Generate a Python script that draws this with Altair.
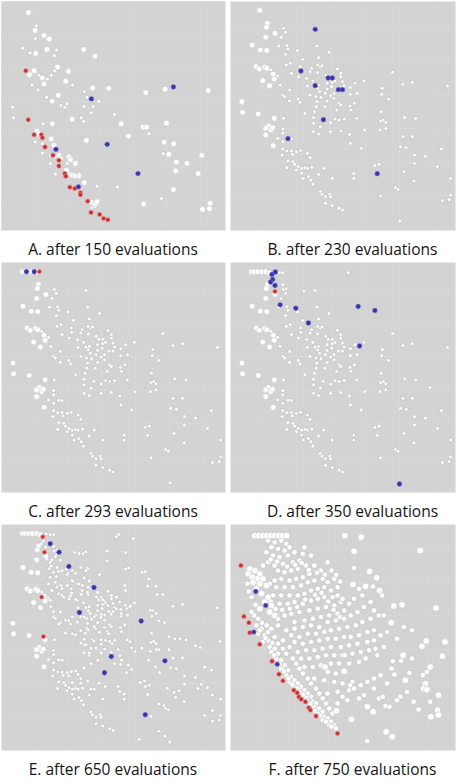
import altair as alt
import pandas as pd

# ---------------------------------------------------------------------------
# Objective-space snapshots of the optimiser (f1 to the right, f2 downwards).
# ---------------------------------------------------------------------------

# Panel A - population after 150 evaluations
A_WHITE_BIG = [
    (83, 35), (103, 88), (130, 104), (146, 115), (105, 158), (139, 146), (250, 146),
    (284, 166), (100, 210), (86, 222), (125, 232), (130, 250), (171, 199), (204, 212),
    (196, 242), (155, 302), (173, 284), (277, 262), (325, 263), (438, 276), (496, 266),
    (626, 270), (215, 356), (155, 370), (363, 370), (430, 380), (440, 380), (500, 368),
    (385, 407), (258, 420), (109, 392), (113, 400), (152, 415), (160, 435), (175, 465),
    (180, 475), (205, 470), (210, 478), (225, 490), (198, 510), (205, 523), (215, 525),
    (225, 527), (235, 527), (252, 547), (493, 425), (522, 430), (507, 462), (530, 485),
    (562, 489), (528, 512), (607, 465), (596, 520), (521, 568), (431, 612), (275, 607),
    (285, 612), (290, 605), (632, 610), (609, 628), (630, 626),
]
A_WHITE = [
    (107, 75), (104, 113), (65, 142), (88, 157), (168, 148), (161, 165), (107, 214),
    (115, 224), (140, 235), (152, 224), (162, 210), (216, 253), (112, 268), (94, 253),
    (138, 290), (181, 315), (193, 320), (200, 310), (252, 273), (260, 290), (271, 300),
    (278, 318), (296, 302), (250, 318), (272, 337), (35, 320), (38, 352), (242, 352),
    (250, 363), (127, 370), (343, 342), (447, 400), (103, 425), (125, 430), (125, 458),
    (150, 465), (165, 470), (228, 485), (200, 490), (150, 490), (165, 522), (237, 520),
    (290, 558), (352, 560), (490, 460), (485, 595), (283, 620), (275, 623),
]
A_RED = [
    (75, 210), (82, 358), (100, 403), (122, 403), (125, 412), (133, 440), (157, 465),
    (175, 480), (175, 497), (193, 520), (196, 528), (208, 561), (223, 565), (240, 578),
    (240, 584), (262, 603), (272, 637), (298, 643), (310, 655), (323, 659),
]
A_BLUE = [(273, 295), (521, 259), (321, 432), (414, 520), (166, 447), (234, 560)]

# Panels B-E - one growing population; each list holds the points of one batch
BIG_B = [
    (92, 46), (40, 320), (42, 352), (88, 357), (115, 85), (112, 97), (137, 115),
    (110, 127), (70, 150), (94, 165), (113, 166), (82, 215), (91, 222), (107, 216),
    (113, 220), (132, 237), (101, 257), (135, 252), (121, 272), (135, 370), (118, 393),
    (110, 400), (125, 405), (130, 398), (110, 420), (132, 452),
]
BIG_C = [(68, 47), (76, 47), (86, 47), (98, 47), (110, 47)]
BIG_D = [(120, 50)]
SMALL_B = [
    (162, 100), (168, 112), (155, 127), (148, 153), (172, 152), (175, 162), (260, 153),
    (203, 167), (295, 172), (168, 178), (265, 188), (218, 193), (182, 205), (170, 210),
    (125, 225), (145, 243), (212, 215), (244, 220), (270, 215), (262, 233), (240, 230),
    (206, 245), (185, 235), (152, 270), (230, 250), (248, 258), (265, 270), (262, 280),
    (232, 273), (286, 240), (290, 265), (305, 262), (320, 222), (330, 245), (335, 260),
    (313, 258), (303, 275), (290, 282), (268, 290), (285, 295), (300, 302), (310, 295),
    (340, 272), (358, 277), (372, 265), (398, 258), (482, 232), (512, 268), (540, 262),
    (643, 273), (452, 280), (450, 298), (470, 312), (180, 285), (160, 300), (165, 305),
    (180, 318), (205, 312), (210, 322), (240, 300), (257, 305), (260, 320), (272, 307),
    (258, 335), (283, 335), (290, 318), (310, 310), (325, 325), (330, 330), (318, 345),
    (358, 298), (378, 295), (370, 325), (357, 333), (360, 345), (162, 370), (225, 355),
    (253, 350), (250, 368), (300, 383), (313, 372), (325, 375), (340, 372), (377, 370),
    (448, 350), (447, 378), (455, 375), (462, 382), (517, 367), (550, 370), (160, 402),
    (160, 415), (250, 385), (270, 395), (250, 410), (265, 417), (300, 410), (330, 408),
    (355, 418), (400, 405), (445, 405), (462, 400), (540, 425), (512, 425), (145, 430),
    (185, 432), (160, 440), (160, 462), (172, 468), (185, 468), (188, 478), (200, 470),
    (212, 467), (232, 475), (240, 488), (358, 445), (390, 460), (505, 455), (522, 458),
    (625, 462), (546, 480), (578, 484), (158, 480), (175, 498), (190, 500), (195, 508),
    (205, 515), (215, 520), (225, 518), (232, 520), (245, 517), (280, 520), (200, 525),
    (215, 535), (220, 550), (235, 545), (242, 555), (248, 568), (265, 538), (305, 550),
    (172, 518), (368, 535), (368, 550), (430, 512), (442, 508), (515, 530), (546, 505),
    (613, 515), (545, 558), (652, 550), (270, 590), (275, 598), (285, 605), (298, 598),
    (300, 606), (285, 625), (305, 632), (325, 640), (335, 645), (490, 578), (498, 583),
    (447, 603), (652, 600), (648, 614), (628, 617), (503, 678), (262, 210), (275, 212),
    (330, 235),
]
SMALL_D = [(352, 50), (222, 105), (160, 86), (150, 50), (160, 50), (592, 393), (170, 98)]
SMALL_E = [
    (345, 57), (395, 62), (318, 100), (372, 105), (235, 108), (247, 108), (255, 160),
    (318, 130), (372, 155), (420, 165), (440, 185), (437, 207), (462, 207), (465, 232),
    (370, 205), (372, 220), (445, 280), (462, 290), (487, 318), (500, 360), (532, 367),
    (578, 388), (650, 375), (420, 395), (470, 400), (500, 400), (605, 453), (415, 500),
    (428, 495), (495, 518), (520, 545), (470, 565), (485, 570), (530, 525), (585, 518),
    (595, 505), (628, 538), (628, 585), (605, 600), (470, 648), (488, 663), (412, 673),
    (140, 125), (150, 135), (165, 118), (180, 128), (155, 145), (170, 150), (185, 160),
    (160, 165), (200, 172), (215, 160), (225, 168), (240, 150), (250, 182), (265, 192),
    (215, 190), (230, 200), (245, 205), (200, 205), (185, 215), (165, 195), (175, 230),
    (190, 240), (210, 236), (225, 247), (242, 232), (260, 226), (290, 226), (300, 240),
    (310, 252), (320, 266), (345, 240), (355, 255), (345, 276), (360, 290), (375, 275),
    (387, 265), (330, 292), (300, 292), (280, 300), (262, 282), (250, 300), (230, 316),
    (215, 300), (195, 310), (175, 322), (195, 350), (215, 352), (240, 342), (262, 340),
    (280, 330), (295, 347), (310, 332), (322, 352), (300, 370), (275, 370), (255, 385),
    (240, 380), (265, 410), (285, 395), (310, 398), (332, 382), (350, 400), (385, 376),
    (390, 395), (360, 432), (340, 442), (290, 432), (270, 442), (250, 455), (225, 465),
    (205, 480), (215, 500), (240, 502), (260, 495), (270, 520), (295, 502), (312, 512),
    (350, 512), (355, 527), (380, 447), (440, 432), (460, 452), (472, 470), (375, 470),
    (150, 180), (145, 200), (155, 220), (150, 250), (160, 285),
]
# newest batch of each snapshot: coloured in its own panel, white afterwards
NEW_B_BLUE = [
    (255, 103), (213, 228), (293, 249), (305, 249), (255, 272), (323, 284), (335, 284),
    (279, 374), (175, 431), (437, 536),
]
NEW_C_BLUE = [(80, 47), (103, 47)]
NEW_C_RED = [(118, 47)]
NEW_D_BLUE = [
    (128, 55), (138, 48), (130, 70), (124, 78), (137, 88), (152, 146), (198, 156),
    (235, 200), (381, 151), (430, 163), (385, 269), (502, 681),
]
NEW_D_RED = [(137, 106)]
NEW_E_BLUE = [
    (150, 78), (176, 104), (205, 147), (279, 211), (236, 287), (418, 313), (330, 421),
    (488, 434), (310, 470), (430, 598),
]
NEW_E_RED = [(128, 57), (133, 104), (125, 240), (130, 360)]

# Panel F - population after 750 evaluations
F_WHITE_BIG = [
    (80, 60), (92, 60), (104, 60), (116, 60), (128, 60), (140, 60), (152, 60), (164, 60),
    (176, 60), (65, 160), (80, 165), (60, 175), (95, 175), (72, 185), (88, 190),
    (105, 190), (75, 200), (95, 205), (115, 210), (85, 220), (100, 235), (120, 245),
    (110, 260), (130, 270), (95, 280), (125, 290), (140, 300), (352, 60), (402, 65),
    (580, 105), (380, 107), (427, 168), (448, 187), (377, 207), (415, 213), (457, 225),
    (628, 278), (525, 268), (500, 272), (492, 322), (598, 377), (655, 380), (585, 393),
    (647, 423), (610, 455), (528, 420), (535, 495), (596, 506), (590, 520), (600, 523),
    (635, 540), (420, 575), (438, 590), (632, 585), (635, 600), (612, 605), (477, 650),
    (495, 665), (372, 613), (327, 587), (350, 468), (292, 455),
]
F_WHITE = [
    (120, 75), (140, 80), (160, 75), (175, 85), (130, 95), (150, 100), (170, 105),
    (185, 95), (115, 110), (135, 120), (155, 125), (180, 120), (200, 110), (225, 115),
    (230, 95), (250, 120), (215, 135), (195, 140), (165, 145), (140, 150), (120, 140),
    (105, 150), (150, 165), (170, 170), (190, 165), (210, 160), (235, 150), (260, 150),
    (280, 165), (300, 140), (245, 175), (225, 185), (205, 190), (185, 195), (160, 190),
    (140, 195), (125, 205), (145, 215), (170, 215), (195, 215), (220, 210), (240, 200),
    (260, 195), (285, 190), (300, 200), (320, 190), (330, 215), (310, 225), (290, 215),
    (270, 220), (250, 225), (230, 235), (210, 240), (185, 240), (160, 240), (135, 240),
    (155, 265), (180, 265), (200, 260), (225, 265), (250, 255), (270, 250), (290, 245),
    (315, 245), (330, 240), (340, 260), (320, 270), (295, 275), (270, 280), (245, 285),
    (215, 290), (190, 295), (170, 300), (150, 310), (200, 320), (230, 315), (255, 310),
    (280, 305), (305, 300), (330, 295), (350, 285),
    (128, 132), (147, 138), (178, 153), (202, 148), (222, 142), (243, 163), (268, 172),
    (292, 178), (312, 165), (326, 178), (338, 198), (232, 252), (262, 238), (282, 232),
    (302, 258), (318, 283), (337, 305), (208, 275), (186, 280), (163, 283), (143, 280),
    (128, 258),
    (85, 330), (100, 340), (90, 355), (110, 360), (120, 375), (105, 380), (125, 395),
    (140, 400), (130, 410), (150, 415), (145, 430), (160, 435), (170, 450), (160, 460),
    (180, 465), (175, 480), (190, 485), (200, 495), (185, 500), (210, 505), (220, 515),
    (200, 515), (230, 525), (215, 530), (240, 535), (250, 545), (235, 548), (255, 560),
    (265, 565), (260, 575), (275, 580), (285, 590), (270, 595), (290, 605), (300, 610),
    (285, 615), (310, 620), (320, 630), (305, 630), (325, 640), (120, 350), (140, 365),
    (150, 385), (165, 400), (175, 415), (195, 430), (205, 445), (215, 460), (225, 475),
    (240, 490), (250, 505), (265, 520), (275, 535), (285, 550), (295, 565), (305, 580),
    (315, 595), (165, 375), (185, 395),
    (95, 345), (112, 368), (133, 383), (138, 420), (156, 447), (168, 468), (182, 490),
    (193, 508), (208, 520), (225, 538), (238, 557), (248, 566), (262, 587), (278, 602),
    (295, 620), (312, 635), (102, 322), (116, 330), (130, 340), (90, 310), (78, 300),
    (70, 290), (82, 268), (70, 245), (62, 228), (58, 205),
    (150, 330), (175, 345), (200, 340), (225, 335), (250, 330), (275, 335), (300, 320),
    (325, 315), (350, 310), (370, 300), (390, 290), (410, 275), (430, 260), (365, 265),
    (345, 250), (380, 250), (405, 240), (395, 220), (190, 360), (215, 365), (240, 355),
    (265, 355), (290, 350), (310, 345), (335, 340), (360, 335), (385, 330), (405, 320),
    (430, 310), (455, 300), (200, 380), (225, 385), (250, 380), (275, 375), (300, 370),
    (325, 370), (350, 365), (370, 365), (395, 360), (420, 350), (440, 345), (460, 360),
    (440, 375), (420, 380), (390, 385), (365, 390), (340, 395), (310, 395), (285, 400),
    (260, 405), (235, 405), (210, 410), (220, 430), (245, 430), (270, 425), (295, 420),
    (320, 420), (345, 420), (375, 415), (400, 410), (425, 405), (445, 400), (230, 455),
    (255, 455), (280, 450), (310, 445), (335, 445), (365, 445), (395, 440), (415, 430),
    (300, 470), (325, 475), (260, 490), (290, 495), (320, 500), (345, 505), (375, 500),
    (365, 525), (380, 520), (400, 510), (420, 500), (440, 490), (460, 480), (330, 530),
    (345, 545), (300, 535), (330, 565), (360, 555), (395, 550), (410, 540), (440, 520),
    (455, 550),
    (380, 157), (437, 213), (465, 240), (530, 335), (555, 345), (555, 430), (522, 437),
    (497, 438), (493, 460), (502, 478), (547, 473), (588, 480), (520, 545), (510, 555),
    (467, 545), (475, 573), (487, 575), (575, 583), (420, 678), (352, 420), (368, 510),
    (470, 300), (480, 350), (440, 285), (510, 370), (470, 395), (450, 420), (480, 505),
    (540, 530), (560, 560), (610, 560), (600, 470),
]
F_RED = [
    (38, 150), (47, 303), (62, 322), (65, 352), (95, 387), (132, 438), (153, 477),
    (165, 497), (198, 525), (208, 533), (213, 545), (220, 552), (233, 560), (243, 578),
    (248, 585), (265, 603), (330, 655),
]
F_BLUE = [(83, 228), (113, 270), (77, 350), (148, 447)]

CAPTIONS = [
    "A. after 150 evaluations", "B. after 230 evaluations",
    "C. after 293 evaluations", "D. after 350 evaluations",
    "E. after 650 evaluations", "F. after 750 evaluations",
]

# ---------------------------------------------------------------------------
BG = "#d3d3d3"
FONT = "Open Sans"
STAGES = "BCDE"


def records(**groups):
    rows = []
    for kind, pts in groups.items():
        rows += [(x, y, kind) for x, y in pts]
    return rows


def shared(stage):
    k = STAGES.index(stage)
    big = {"B": BIG_B, "C": BIG_C, "D": BIG_D}
    small = {"B": SMALL_B, "D": SMALL_D, "E": SMALL_E}
    new = {
        "B": [("blue", NEW_B_BLUE)],
        "C": [("blue", NEW_C_BLUE), ("red", NEW_C_RED)],
        "D": [("blue", NEW_D_BLUE), ("red", NEW_D_RED)],
        "E": [("blue", NEW_E_BLUE), ("red", NEW_E_RED)],
    }
    rows = []
    for s in STAGES[: k + 1]:
        rows += [(x, y, "white_big") for x, y in big.get(s, [])]
        rows += [(x, y, "white") for x, y in small.get(s, [])]
    for s in STAGES[: k + 1]:
        for colour, pts in new[s]:
            kind = colour if s == stage else "white"
            rows += [(x, y, kind) for x, y in pts]
    return rows


AXIS = alt.Axis(title="", labels=False, ticks=False, domain=False, grid=True,
                gridColor="#d9d9d9", gridWidth=0.7, tickCount=9)


def panel(rows, x_dom, y_dom, caption, width, height, shift, sizes):
    df = pd.DataFrame(rows, columns=["f1", "f2", "kind"])
    base = alt.Chart(df).encode(
        x=alt.X("f1:Q", scale=alt.Scale(domain=x_dom, nice=False, zero=False), axis=AXIS),
        y=alt.Y("f2:Q", scale=alt.Scale(domain=y_dom, nice=False, zero=False, reverse=True),
                axis=AXIS),
    )
    styles = {
        "white": dict(fill="#ffffff", stroke="#b4b4b4", strokeWidth=0.5),
        "white_big": dict(fill="#ffffff", stroke="#c4c4c4", strokeWidth=0.5),
        "red": dict(fill="#d42a2a", stroke="#e6a0a0", strokeWidth=0.6),
        "blue": dict(fill="#3a32b2", stroke="#8c88cc", strokeWidth=0.4),
    }
    layers = [
        base.transform_filter(alt.datum.kind == kind).mark_circle(
            opacity=1, size=sizes[kind], **style)
        for kind, style in styles.items()
    ]
    return alt.layer(*layers).properties(
        width=width, height=height,
        title=alt.TitleParams(text=caption, orient="bottom", anchor="middle", font=FONT,
                              fontSize=15.5, fontWeight="normal", color="#141414",
                              offset=13, baseline="top", dx=shift),
    )


SIZE_A = {"white": 15, "white_big": 32, "red": 20, "blue": 24}
SIZE_S = {"white": 14, "white_big": 32, "red": 18, "blue": 24}
SIZE_F = {"white": 30, "white_big": 42, "red": 20, "blue": 22}
DOM_S = ([5, 665], [18, 705])

pA = panel(records(white_big=A_WHITE_BIG, white=A_WHITE, red=A_RED, blue=A_BLUE),
           [0, 677], [0, 690], CAPTIONS[0], 224, 229, 0, SIZE_A)
pB = panel(shared("B"), *DOM_S, CAPTIONS[1], 225, 229, 10, SIZE_S)
pC = panel(shared("C"), *DOM_S, CAPTIONS[2], 224, 230, 0, SIZE_S)
pD = panel(shared("D"), *DOM_S, CAPTIONS[3], 225, 230, 10, SIZE_S)
pE = panel(shared("E"), *DOM_S, CAPTIONS[4], 224, 226, 0, SIZE_S)
pF = panel(records(white_big=F_WHITE_BIG, white=F_WHITE, red=F_RED, blue=F_BLUE),
           [5, 685], [25, 705], CAPTIONS[5], 225, 226, 10, SIZE_F)

chart = alt.vconcat(
    alt.hconcat(pA, pB, spacing=3),
    alt.hconcat(pC, pD, spacing=3),
    alt.hconcat(pE, pF, spacing=3),
    spacing=2,
).properties(
    padding={"left": 0, "top": 0, "right": 0, "bottom": 0},
    background="#ffffff",
).configure_view(fill=BG, stroke="transparent")

chart.save("out.html", embed_options={"renderer": "svg", "actions": False})
